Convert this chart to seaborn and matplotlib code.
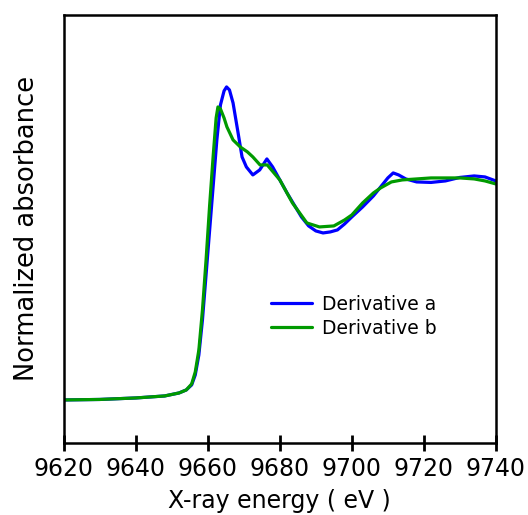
import pandas as pd
import matplotlib.pyplot as plt
import seaborn as sns
import numpy as np

sns.set_theme(style="ticks", rc={
    'xtick.color': 'black',
    'text.color': 'black',
    'axes.labelcolor': 'black',
    'axes.edgecolor': 'black',
})
plt.rcParams['font.family'] = ['DejaVu Sans']

# values (energy in eV, absorbance normalised to edge step)
energy_a = [9620, 9630, 9640, 9648, 9652, 9654, 9655.5, 9656.5, 9657.5, 9658.5,
            9659.5, 9660.5, 9661.5, 9662.5, 9663.5, 9664.5, 9665.2, 9666, 9667, 9668.4,
            9669.5, 9670.7, 9672.5, 9674.4, 9676.4, 9678, 9680, 9682, 9684, 9686,
            9688, 9690, 9692, 9694, 9696, 9698, 9700, 9703, 9706, 9708,
            9710, 9711.5, 9713, 9715, 9718, 9722, 9726, 9730, 9734, 9737, 9740]
pix_a = [400, 399.5, 398, 396, 393, 390, 385, 375, 355, 320,
         275, 230, 185, 140, 105, 91, 87, 90, 103, 133,
         157, 167, 175, 170, 159, 167, 180, 193, 205, 217,
         226, 231, 233, 232, 230, 224, 217, 207, 196, 187,
         178, 173, 175, 179, 182, 182.5, 181, 177.5, 176, 177, 181]

energy_b = [9620, 9630, 9640, 9648, 9652, 9654, 9655.5, 9656.5, 9657.5, 9658.5,
            9659.5, 9660.5, 9661.5, 9662.3, 9662.8, 9663.5, 9664.5, 9665.3, 9667, 9669,
            9671, 9672.5, 9674.5, 9676.5, 9680, 9683.5, 9687.5, 9691, 9695, 9698,
            9700, 9703, 9706, 9708, 9711, 9714, 9718, 9722, 9726, 9730,
            9734, 9737, 9740]
pix_b = [400, 399.5, 398, 396, 393, 390, 384, 372, 350, 310,
         260, 205, 155, 118, 107, 109, 118, 127, 140, 147,
         152, 157, 165, 165, 180, 203, 223, 227, 226, 220,
         215, 203, 193, 188, 182, 180, 179, 178, 178, 178,
         179, 181, 184]

absorb_a = [(400 - p) / 218 for p in pix_a]
absorb_b = [(400 - p) / 218 for p in pix_b]

df = pd.concat([
    pd.DataFrame({'Energy': energy_a, 'Abs': absorb_a, 'Sample': 'Derivative a'}),
    pd.DataFrame({'Energy': energy_b, 'Abs': absorb_b, 'Sample': 'Derivative b'}),
])

fig = plt.figure(figsize=(5.28, 5.15), dpi=100)
ax = fig.add_axes([0.121, 0.140, 0.818, 0.831])
sns.lineplot(data=df, x='Energy', y='Abs', hue='Sample', ax=ax,
             palette={'Derivative a': '#0000ff', 'Derivative b': '#009a00'},
             linewidth=2.3, sort=False)

ax.set_xlim(9620, 9740)
ax.set_ylim(-0.197, 1.766)
ax.set_xticks(np.arange(9620, 9741, 20))
ax.set_yticks([])
ax.tick_params(axis='x', labelsize=17, pad=4, length=12, width=2, direction='inout')
for s in ax.spines.values():
    s.set_visible(True)
    s.set_color('black')
    s.set_linewidth(1.8)

ax.set_xlabel('X-ray energy ( eV )', fontsize=17, labelpad=6)
ax.set_ylabel('Normalized absorbance', fontsize=18.5, labelpad=17)
ax.legend(loc='upper left', bbox_to_anchor=(0.44, 0.385), frameon=False,
          fontsize=13.5, handlelength=2.2, handletextpad=0.55, labelspacing=0.25,
          title=None)

fig.savefig('out.png', dpi=100)
